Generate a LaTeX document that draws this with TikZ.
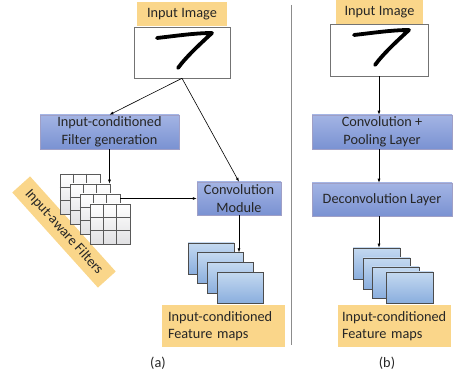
\documentclass[tikz,border=0pt]{standalone}
\usepackage{fontspec}
\setmainfont{Carlito}
\usetikzlibrary{arrows.meta}
\definecolor{tagyellow}{RGB}{250,214,138}
\definecolor{blktop}{RGB}{163,180,228}
\definecolor{blkbot}{RGB}{122,146,210}
\definecolor{shtop}{RGB}{196,217,240}
\definecolor{shbot}{RGB}{138,174,222}
\definecolor{txtgray}{RGB}{38,38,38}
\begin{document}
\begin{tikzpicture}[x=1pt,y=-1pt,
  every node/.style={inner sep=0pt,font=\fontsize{14.3}{17.5}\selectfont,text=txtgray},
  tag/.style={fill=tagyellow,minimum height=24pt},
  picbox/.style={draw=black!55,fill=white,line width=0.6pt},
  blk/.style={draw=blue!25!gray!60,line width=0.5pt,top color=blktop,bottom color=blkbot,align=center},
  sheet/.style={draw=black!70,line width=0.8pt,top color=shtop,bottom color=shbot,minimum height=31pt},
  fltr/.style={draw=black!65,line width=0.8pt,top color=white,bottom color=blue!8!black!12,minimum size=40pt},
  gridln/.style={black!65,line width=0.8pt},
  digit/.style={line width=3.8pt,line cap=round,line join=round},
  arr/.style={-{Latex[length=4pt,width=3pt]},line width=0.6pt}]
  \useasboundingbox (0,0) rectangle (458,379);
  % left: input-conditioned filters
  \node[tag,minimum width=90pt] (inA) at (182,14) {Input Image};
  \node[picbox,minimum width=96pt,minimum height=51pt] (imgA) at (182,52.5) {};
  \draw[digit] (157,38) .. controls (175,36) and (195,33) .. (212,33) .. controls (200,44) and (186,57) .. (178,68);
  \node[blk,minimum width=139pt,minimum height=34pt] (fgen) at (109.5,132) {Input-conditioned\\Filter generation};
  \node[blk,minimum width=84pt,minimum height=33pt] (convA) at (239,198.5) {Convolution\\Module};
  \node[tag,rotate=-48,minimum width=128pt] (faw) at (64,232) {Input-aware Filters};
  \foreach \k in {1,...,4} {
    \node[fltr] (f\k) at (70+10*\k,184+10*\k) {};
    \draw[gridln] (f\k.north west) ++(13.33,0) -- ++(0,40)
                  (f\k.north west) ++(26.67,0) -- ++(0,40)
                  (f\k.north west) ++(0,13.33) -- ++(40,0)
                  (f\k.north west) ++(0,26.67) -- ++(40,0);
  }
  \foreach \k in {1,...,4}
    \node[sheet,minimum width=46pt] (sA\k) at (201.3+9.7*\k,248.8+9.7*\k) {};
  \node[tag,text width=111pt,inner xsep=6pt,align=left,minimum height=42pt] (fmA) at (223.5,326) {Input-conditioned\\Feature maps};
  \node (capA) at (158,363) {(a)};
  \draw[arr] (imgA.south) -- (fgen.north);
  \draw[arr] (imgA.south) -- (convA.north);
  \draw[arr] (fgen.south) -- (fgen.south |- f2.north);
  \draw[arr] (f3.east |- convA.west) -- (convA.west);
  \draw[arr] (convA.south) -- (convA.south |- sA2.north);
  % divider
  \coordinate (dtop) at (291,5);
  \coordinate (dbot) at (291,345);
  \draw[black!45,line width=0.6pt] (dtop) -- (dbot);
  % right: plain conv / deconv
  \node[tag,minimum width=87pt] (inB) at (379.5,12) {Input Image};
  \node[picbox,minimum width=98pt,minimum height=52pt] (imgB) at (379,50) {};
  \draw[digit,shift={(197,-3)}] (157,38) .. controls (175,36) and (195,33) .. (212,33) .. controls (200,44) and (186,57) .. (178,68);
  \node[blk,minimum width=140pt,minimum height=34pt] (cpB) at (382,132) {Convolution +\\Pooling Layer};
  \node[blk,minimum width=140pt,minimum height=33pt] (dcB) at (382,199.5) {Deconvolution Layer};
  \foreach \k/\x/\y in {1/376.5/263.5,2/386.5/273.5,3/395.5/282.5,4/409.5/287.5}
    \node[sheet,minimum width=47pt] (sB\k) at (\x,\y) {};
  \node[tag,text width=105pt,inner xsep=4pt,align=left,minimum height=42pt] (fmB) at (394.5,326) {Input-conditioned\\Feature maps};
  \node (capB) at (387,363) {(b)};
  \draw[arr] (imgB.south) -- (imgB.south |- cpB.north);
  \draw[arr] (cpB.south -| imgB.south) -- (dcB.north -| imgB.south);
  \draw[arr] (dcB.south -| imgB.south) -- (sB1.north -| imgB.south);
\end{tikzpicture}
\end{document}
